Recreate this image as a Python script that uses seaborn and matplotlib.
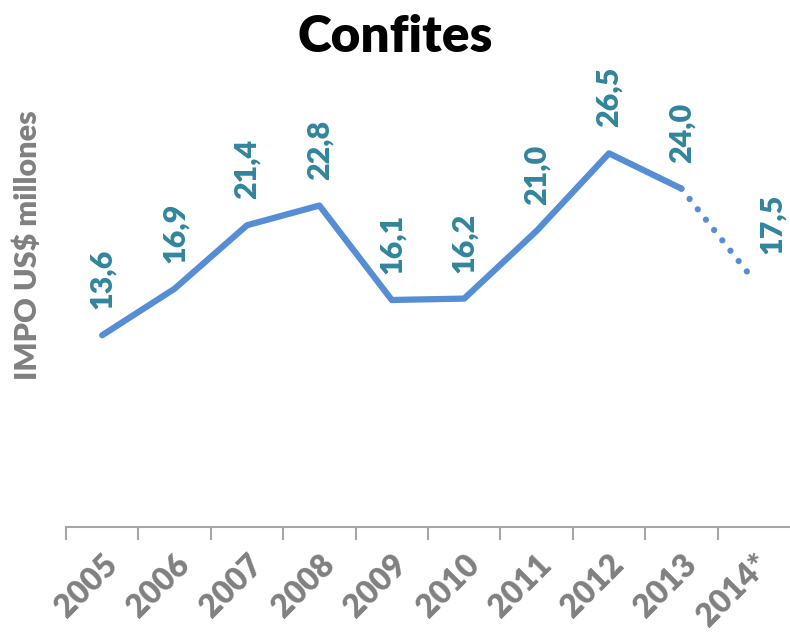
import matplotlib
matplotlib.use("Agg")
import matplotlib.pyplot as plt
import seaborn as sns
import numpy as np
import pandas as pd

years = ["2005", "2006", "2007", "2008", "2009", "2010", "2011", "2012", "2013", "2014*"]
values = [13.6, 16.9, 21.4, 22.8, 16.1, 16.2, 21.0, 26.5, 24.0, 17.5]
labels = ["13,6", "16,9", "21,4", "22,8", "16,1", "16,2", "21,0", "26,5", "24,0", "17,5"]

sns.set_style("white")
plt.rcParams["font.family"] = ["Lato", "DejaVu Sans"]

line_color = "#558ED5"
label_color = "#31859C"
gray = "#808080"

df = pd.DataFrame({"x": np.arange(len(years)), "y": values})

fig = plt.figure(figsize=(7.9, 6.35), dpi=100)
ax = fig.add_axes([66 / 790, 108 / 635, 1 - 66 / 790, (527 - 104) / 635])

# solid part up to 2013, dotted estimate to 2014*
sns.lineplot(data=df.iloc[:9], x="x", y="y", color=line_color, linewidth=4.5,
             ax=ax, solid_capstyle="round")
sns.lineplot(data=df.iloc[8:], x="x", y="y", color=line_color, linewidth=4.5,
             linestyle=(0, (0.01, 2.1)), dash_capstyle="round", ax=ax)

for i, (v, t) in enumerate(zip(values, labels)):
    dx = 18 if i == len(values) - 1 else 0
    ax.annotate(t, (i, v), xytext=(dx, 26), textcoords="offset pixels",
                rotation=90, ha="center", va="bottom", color=label_color,
                fontsize=22, fontweight="heavy")

ax.set_xlim(-0.5, 9.5)
ax.set_ylim(0, 30)
ax.set_yticks([])
ax.set_xticks(np.arange(-0.5, 9.0, 1.0))
ax.set_xticklabels([])
ax.tick_params(axis="x", which="major", bottom=True, length=9, width=1.5,
               color="#a6a6a6", direction="out")
ax.set_xticks(np.arange(len(years)), minor=True)
ax.set_xticklabels(years, minor=True, rotation=45, ha="right", va="top",
                   rotation_mode="anchor", fontsize=23, fontweight="heavy", color=gray)
ax.tick_params(axis="x", which="minor", bottom=True, length=0, pad=16)

for s in ["top", "right", "left"]:
    ax.spines[s].set_visible(False)
ax.spines["bottom"].set_color("#a6a6a6")
ax.spines["bottom"].set_linewidth(1.5)

ax.set_xlabel("")
ax.set_ylabel("IMPO US$ millones", fontsize=22, fontweight="heavy", color=gray)
ax.yaxis.set_label_coords(-24 / 724, 0.667)

fig.suptitle("Confites", fontsize=37, fontweight="heavy", color="black", y=0.978)

fig.savefig("out.png", dpi=100)
